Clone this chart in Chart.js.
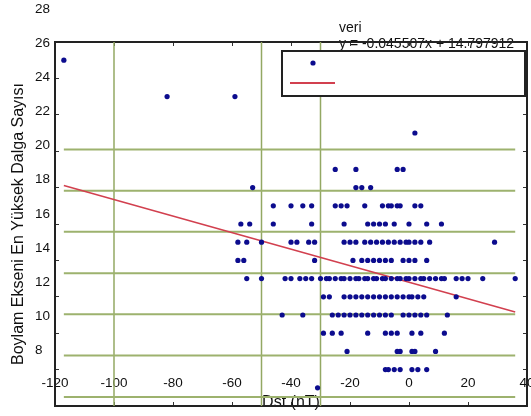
<!DOCTYPE html>
<html>
<head>
<meta charset="utf-8">
<script src="https://cdn.jsdelivr.net/npm/chart.js@4.4.1/dist/chart.umd.min.js"></script>
<style>
  html, body { margin: 0; padding: 0; background: #fff; }
  #wrap { width: 531px; height: 416px; }
</style>
</head>
<body>
<div id="wrap"><canvas id="myChart"></canvas></div>
<script>
// wave number rows (y) and the Dst values (x) read on each row
var waveLevels = [27, 25, 23, 21, 20, 19, 18, 17, 16, 15, 14, 13, 12, 11, 10, 9];
var dstAtLevel = [
  [-117],
  [-82, -59],
  [2],
  [-25, -18, -4, -2],
  [-53, -18, -16, -13],
  [-46, -40, -36, -33, -25, -23, -21, -15, -9, -7, -6, -4, -3, 2, 4],
  [-57, -54, -46, -33, -22, -14, -12, -10, -8, -5, 0, 6, 11],
  [-58, -55, -50, -40, -38, -34, -32, -22, -20, -18, -15, -13, -11, -9, -7, -5, -3, -1, 0, 2, 4, 7, 29],
  [-58, -56, -32, -19, -16, -14, -12, -10, -8, -6, -2, 0, 2, 6],
  [-55, -50, -42, -40, -37, -35, -33, -30, -28, -27, -25, -23, -22, -20, -18, -17, -15, -14, -12, -11, -9, -8, -6, -4, -3, -1, 0, 2, 4, 5, 7, 9, 11, 12, 16, 18, 20, 25, 36],
  [-29, -27, -22, -20, -18, -16, -14, -12, -10, -8, -6, -4, -2, 0, 1, 3, 5, 16],
  [-43, -36, -26, -24, -22, -20, -18, -16, -14, -12, -10, -8, -6, -2, 0, 2, 4, 6, 13],
  [-29, -26, -23, -14, -8, -6, -4, 1, 4, 12],
  [-21, -4, -3, 1, 2, 9],
  [-8, -7, -5, -3, 1, 3, 6],
  [-31]
];

// fitted line end points
var fitDst = [-117, 36];
var fitWave = [20.12, 13.16];

// green guide lines
var guideWave = [8.5, 10.77, 13.04, 15.3, 17.57, 19.83, 22.1];
var guideDst = [-100, -50, -30];

// tick labels
var xTicks = [-120, -100, -80, -60, -40, -20, 0, 20, 40];
var yTickLabels = [28, 26, 24, 22, 20, 18, 16, 14, 12, 10, 8];

var FONT = "'Liberation Sans', Arial, sans-serif";
Chart.defaults.font.family = FONT;
Chart.defaults.color = '#111';

var points = [];
waveLevels.forEach(function (w, i) {
  dstAtLevel[i].forEach(function (d) { points.push({x: d, y: w}); });
});

var datasets = [{
  type: 'scatter',
  label: 'veri',
  data: points,
  backgroundColor: '#0c0c8e',
  borderWidth: 0,
  pointRadius: 2.6,
  order: 1
}, {
  type: 'line',
  label: 'y = -0.045507x + 14.797912',
  data: fitDst.map(function (d, i) { return {x: d, y: fitWave[i]}; }),
  borderColor: '#d2404f',
  borderWidth: 1.6,
  pointRadius: 0,
  fill: false,
  order: 2
}];

guideWave.forEach(function (w) {
  datasets.push({
    type: 'line',
    data: [{x: fitDst[0], y: w}, {x: fitDst[1], y: w}],
    borderColor: '#9db26e',
    borderWidth: 2,
    pointRadius: 0,
    order: 3
  });
});
guideDst.forEach(function (d) {
  datasets.push({
    type: 'line',
    data: [{x: d, y: 8}, {x: d, y: 28}],
    borderColor: '#93a863',
    borderWidth: 1.5,
    pointRadius: 0,
    order: 3
  });
});

// legend as it shows in the picture: texts above, marks in the box
var legendPos = {left: 282, top: 51, right: 525, bottom: 96, markX: 313, markY: 63,
  lineX1: 290, lineX2: 335, lineY: 83, textX: 339, textY1: 28, textY2: 44};

var oddLegend = {
  id: 'oddLegend',
  beforeDraw: function (chart) {
    var ctx = chart.ctx, ds = chart.data.datasets;
    ctx.save();
    ctx.font = '14px ' + FONT;
    ctx.fillStyle = '#111';
    ctx.textAlign = 'left';
    ctx.textBaseline = 'middle';
    ctx.fillText(ds[0].label, legendPos.textX, legendPos.textY1);
    ctx.fillText(ds[1].label, legendPos.textX, legendPos.textY2);
    ctx.restore();
  },
  afterDatasetsDraw: function (chart) {
    var ctx = chart.ctx, ds = chart.data.datasets, p = legendPos;
    ctx.save();
    ctx.fillStyle = '#fff';
    ctx.fillRect(p.left, p.top, p.right - p.left, p.bottom - p.top);
    ctx.strokeStyle = '#222';
    ctx.lineWidth = 2;
    ctx.strokeRect(p.left, p.top, p.right - p.left, p.bottom - p.top);
    ctx.fillStyle = ds[0].backgroundColor;
    ctx.beginPath();
    ctx.arc(p.markX, p.markY, 2.6, 0, Math.PI * 2);
    ctx.fill();
    ctx.strokeStyle = ds[1].borderColor;
    ctx.lineWidth = 2;
    ctx.beginPath();
    ctx.moveTo(p.lineX1, p.lineY);
    ctx.lineTo(p.lineX2, p.lineY);
    ctx.stroke();
    ctx.restore();
  }
};

// fixed box sizes so the plot frame lands where it is in the picture
function fixSize(size) {
  return function (s) {
    if (s.isHorizontal()) s.height = size; else s.width = size;
    s.paddingLeft = 0; s.paddingRight = 0; s.paddingTop = 0; s.paddingBottom = 0;
  };
}

function frameAxis(position, min, max, size) {
  return {
    type: 'linear',
    position: position,
    min: min,
    max: max,
    ticks: {display: false, stepSize: position === 'top' || position === 'bottom' ? 20 : 2},
    grid: {drawOnChartArea: false, drawTicks: true, tickLength: -4, color: '#333', lineWidth: 1},
    border: {display: true, color: '#222', width: 2},
    afterFit: fixSize(size)
  };
}

var xAxis = frameAxis('bottom', -120, 40, 10);
xAxis.afterBuildTicks = function (s) { s.ticks = xTicks.map(function (v) { return {value: v}; }); };
xAxis.ticks = {display: true, mirror: true, padding: 15, maxRotation: 0, autoSkip: false,
  color: '#111', font: {size: 13.5}, callback: function (v) { return String(v); }};
xAxis.title = {display: true, text: 'Dst (nT)', color: '#111', font: {size: 16},
  padding: {top: 0, bottom: 3.5}};

var yAxis = frameAxis('left', 8, 28, 0);
yAxis.weight = 0;

var x2Axis = frameAxis('top', -120, 40, 42);
var y2Axis = frameAxis('right', 8, 28, 2);

var ctx = document.getElementById('myChart');
var chart = new Chart(ctx, {
  type: 'scatter',
  data: {datasets: datasets},
  options: {
    responsive: true,
    maintainAspectRatio: false,
    animation: false,
    layout: {padding: 0},
    plugins: {legend: {display: false}, tooltip: {enabled: false}},
    scales: {
      x: xAxis,
      y: yAxis,
      x2: x2Axis,
      y2: y2Axis,
      yl: {
        type: 'linear',
        position: 'left',
        weight: 1,
        min: 4.7,
        max: 26.1,
        afterBuildTicks: function (s) { s.ticks = yTickLabels.map(function (v) { return {value: v}; }); },
        afterFit: fixSize(55),
        ticks: {mirror: true, padding: -20, autoSkip: false, color: '#111', font: {size: 13.5},
          callback: function (v) { return String(v); }},
        grid: {display: false, drawTicks: false},
        border: {display: false},
        title: {display: true, text: 'Boylam Ekseni En Yüksek Dalga Sayısı', color: '#111',
          font: {size: 16}, padding: {top: 9.4, bottom: 0}}
      }
    }
  },
  plugins: [oddLegend]
});
</script>
</body>
</html>
